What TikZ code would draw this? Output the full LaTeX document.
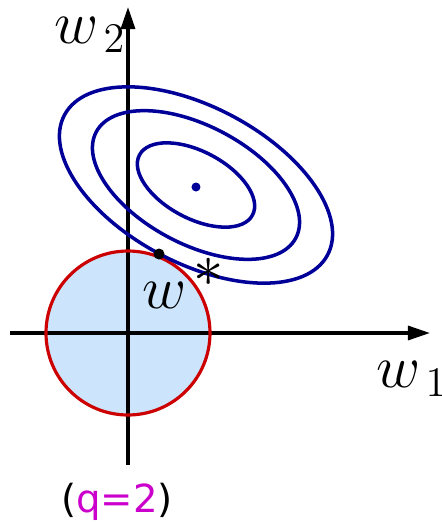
\documentclass[tikz,border=0pt]{standalone}
\usepackage{fontspec}
\newfontfamily\labelfont{DejaVu Sans}
\usetikzlibrary{arrows.meta}
\definecolor{ballfill}{RGB}{204,228,252}
\definecolor{ballred}{RGB}{204,0,0}
\definecolor{contour}{RGB}{0,0,153}
\definecolor{qcolor}{RGB}{204,0,204}
\begin{document}
\begin{tikzpicture}[>={Stealth[length=2.2mm,width=1.4mm,inset=0pt]}, x=1mm, y=1mm,
    axis/.style={line width=0.9pt},
    level/.style={draw=contour, line width=1pt, rotate around={-28:(6.8,14.8)}},
    wlabel/.style={font=\fontsize{18}{20}\selectfont, inner sep=0pt}]
\useasboundingbox (-12.8,-19.2) rectangle (31.3,33.3);
\coordinate (O) at (0,0);
\coordinate (xs) at (-11.8,0);
\coordinate (xe) at (30.2,0);
\coordinate (ys) at (0,-13.2);
\coordinate (ye) at (0,32.6);
\coordinate (m) at (6.8,14.6);
\coordinate (wstar) at (3.1,7.9);
% constraint region
\fill[ballfill] (O) circle(8.2);
\draw[axis,->] (xs)--(xe);
\draw[axis,->] (ys)--(ye);
\draw[ballred, line width=0.9pt] (O) circle(8.2);
% level sets
\draw[level] (6.8,14.8) ellipse[x radius=6.4, y radius=3.35];
\draw[level] (6.8,14.8) ellipse[x radius=11.3, y radius=5.9];
\draw[level] (6.8,14.8) ellipse[x radius=14.9, y radius=7.8];
\fill[contour] (m) circle(0.45);
\fill (wstar) circle(0.55);
\node[wlabel] (lw2) at (-3.8,29.8) {$w_{\,2}$};
\node[wlabel] (lw1) at (28.4,-4.6) {$w_{\,1}$};
\node[wlabel] (lws) at (5.6,5.0) {$w^{\,\textstyle *}$};
\node[font=\labelfont\fontsize{11}{13}\selectfont] (lq) at (-1.1,-16.9) {(\textcolor{qcolor}{q=2})};
\end{tikzpicture}
\end{document}
